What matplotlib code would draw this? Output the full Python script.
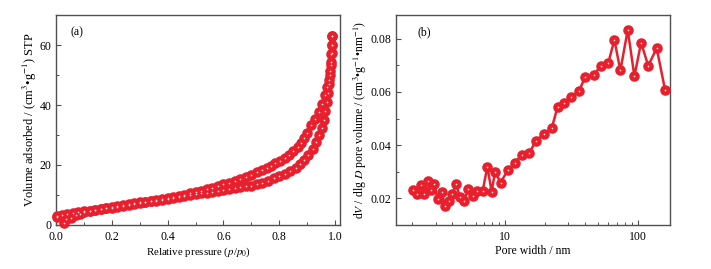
import matplotlib
matplotlib.use("Agg")
import matplotlib.pyplot as plt
from matplotlib.ticker import MultipleLocator, LogLocator, FixedLocator, NullFormatter

plt.rcParams['font.family'] = ['Liberation Serif', 'DejaVu Serif']
plt.rcParams['mathtext.fontset'] = 'stix'

# Panel (a): N2 isotherm (adsorption and desorption branches)
ads_p = [0.005, 0.03, 0.035, 0.055, 0.07, 0.085, 0.1, 0.12, 0.14, 0.16, 0.18, 0.2, 0.22,
         0.24, 0.26, 0.28, 0.30, 0.32, 0.34, 0.36, 0.38, 0.40, 0.42, 0.44, 0.46, 0.48,
         0.50, 0.52, 0.54, 0.56, 0.58, 0.60, 0.62, 0.64, 0.66, 0.68, 0.70, 0.72, 0.74,
         0.76, 0.78, 0.80, 0.82, 0.84, 0.86, 0.875, 0.89, 0.905, 0.92, 0.933, 0.944,
         0.953, 0.96, 0.966, 0.971, 0.975, 0.979, 0.982, 0.985, 0.987, 0.989, 0.99]
ads_v = [2.6, 0.6, 2.0, 2.4, 3.4, 3.8, 4.2, 4.6, 4.9, 5.2, 5.5, 5.8, 6.1,
         6.4, 6.7, 7.0, 7.3, 7.6, 7.9, 8.1, 8.4, 8.7, 9.0, 9.3, 9.6, 9.9,
         10.2, 10.5, 10.8, 11.1, 11.4, 11.7, 12.0, 12.3, 12.6, 12.9, 13.1, 13.5, 14.0,
         14.7, 15.5, 16.2, 16.9, 17.9, 19.0, 20.2, 21.6, 23.2, 25.2, 27.6, 30.0,
         32.5, 35.0, 38.0, 41.0, 44.0, 47.0, 50.0, 53.5, 57.0, 60.0, 63.0]
des_p = [0.99, 0.989, 0.988, 0.986, 0.983, 0.978, 0.972, 0.965, 0.955, 0.944, 0.93, 0.915,
         0.9, 0.89, 0.878, 0.866, 0.851, 0.835, 0.82, 0.803, 0.786, 0.77, 0.755, 0.74,
         0.72, 0.70, 0.68, 0.66, 0.64, 0.62, 0.60, 0.58, 0.56, 0.54, 0.52, 0.50, 0.48,
         0.46, 0.44, 0.42, 0.40, 0.38, 0.36, 0.34, 0.32, 0.30, 0.28, 0.26, 0.24, 0.22,
         0.20, 0.18, 0.16, 0.14, 0.12, 0.10, 0.08, 0.06, 0.04, 0.02, 0.005]
des_v = [63.0, 60.0, 57.4, 54.4, 51.5, 48.5, 46.0, 43.3, 40.5, 37.8, 35.5, 33.3,
         30.5, 28.9, 27.3, 26.0, 24.5, 23.4, 22.4, 21.4, 20.5, 19.7, 19.0, 18.3,
         17.5, 16.7, 16.0, 15.3, 14.7, 14.1, 13.5, 12.9, 12.4, 11.9, 11.4, 10.9, 10.5,
         10.1, 9.7, 9.4, 9.0, 8.7, 8.4, 8.1, 7.8, 7.5, 7.2, 6.9, 6.6, 6.3,
         6.0, 5.7, 5.4, 5.1, 4.8, 4.5, 4.2, 3.9, 3.6, 3.3, 3.0]

# Panel (b): pore size distribution
pore_w = [2.01, 2.17, 2.31, 2.47, 2.61, 2.77, 2.93, 3.10, 3.34, 3.53, 3.80, 4.01, 4.27,
          4.58, 4.91, 5.30, 5.70, 6.18, 6.79, 7.36, 7.93, 8.41, 9.27, 10.5, 11.9, 13.4,
          15.2, 17.1, 19.7, 22.5, 24.9, 28.0, 31.4, 36.1, 40.1, 46.6, 52.6, 60.1, 66.7,
          74.0, 84.1, 94.4, 106, 120, 139, 161]
pore_v = [0.0231, 0.0215, 0.0250, 0.0215, 0.0263, 0.0231, 0.0255, 0.0196, 0.0224, 0.0171,
          0.0190, 0.0215, 0.0255, 0.0203, 0.0190, 0.0234, 0.0209, 0.0228, 0.0228, 0.0319,
          0.0224, 0.0299, 0.0259, 0.0306, 0.0334, 0.0364, 0.0369, 0.0416, 0.0443, 0.0464,
          0.0544, 0.0559, 0.0581, 0.0603, 0.0656, 0.0663, 0.0699, 0.0711, 0.0796, 0.0681,
          0.0834, 0.0659, 0.0786, 0.0699, 0.0765, 0.0606]

RED = '#e8202e'
HILITE = '#ffe0e3'
SPINE = '#505050'
MS = 7.6

fig = plt.figure(figsize=(7.11, 2.69), dpi=100)
axa = fig.add_axes([0.0788, 0.1636, 0.3994, 0.7806])
axb = fig.add_axes([0.5565, 0.1636, 0.3858, 0.7806])

def style(ax):
    for s in ax.spines.values():
        s.set_color(SPINE)
        s.set_linewidth(1.0)
    ax.tick_params(which='both', direction='in', color=SPINE, labelsize=8.5,
                   top=False, right=False)
    ax.tick_params(axis='x', pad=4)
    ax.tick_params(axis='y', pad=3)
    ax.tick_params(which='major', length=3.5, width=0.8)
    ax.tick_params(which='minor', length=2, width=0.7)

# (a)
for xs, ys in ((ads_p, ads_v), (des_p, des_v)):
    axa.plot(xs, ys, 'o', color=RED, ms=MS, mew=0, zorder=3, clip_on=False)
    axa.plot(xs, ys, 'o', color=HILITE, ms=1.2, mew=0, zorder=4, clip_on=False)
axa.set_xlim(0, 1.018)
axa.set_ylim(0, 70)
axa.xaxis.set_major_locator(MultipleLocator(0.2))
axa.xaxis.set_minor_locator(MultipleLocator(0.1))
axa.yaxis.set_major_locator(MultipleLocator(20))
axa.yaxis.set_minor_locator(MultipleLocator(10))
axa.xaxis.set_major_formatter(matplotlib.ticker.FormatStrFormatter('%.1f'))
style(axa)
axa.set_xlabel(r'Relative pressure ($p$/$p_0$)', fontsize=7.8, labelpad=2)
axa.set_ylabel(r'Volume adsorbed / (cm$^3$•g$^{-1}$) STP', fontsize=9, labelpad=1)
axa.text(0.073, 0.916, '(a)', transform=axa.transAxes, fontsize=8.5,
         ha='center', va='center')

# (b)
axb.plot(pore_w, pore_v, '-', color=RED, lw=1.8, zorder=2)
axb.plot(pore_w, pore_v, 'o', color=RED, ms=MS, mew=0, zorder=3)
axb.plot(pore_w, pore_v, 'o', color=HILITE, ms=1.2, mew=0, zorder=4)
axb.set_xscale('log')
axb.set_xlim(1.5, 175)
axb.set_ylim(0.0099, 0.089)
axb.xaxis.set_major_locator(FixedLocator([10, 100]))
axb.xaxis.set_major_formatter(matplotlib.ticker.FixedFormatter(['10', '100']))
axb.xaxis.set_minor_locator(LogLocator(base=10, subs=range(2, 10)))
axb.xaxis.set_minor_formatter(NullFormatter())
axb.yaxis.set_major_locator(MultipleLocator(0.02))
axb.yaxis.set_minor_locator(MultipleLocator(0.01))
axb.yaxis.set_major_formatter(matplotlib.ticker.FormatStrFormatter('%.2f'))
style(axb)
axb.set_xlabel('Pore width / nm', fontsize=8.5, labelpad=2)
axb.set_ylabel(r'd$V$ / dlg $D$ pore volume / (cm$^3$•g$^{-1}$•nm$^{-1}$)',
               fontsize=8.5, labelpad=1)
axb.text(0.104, 0.916, '(b)', transform=axb.transAxes, fontsize=8.5,
         ha='center', va='center')

fig.savefig('out.png', dpi=100)
